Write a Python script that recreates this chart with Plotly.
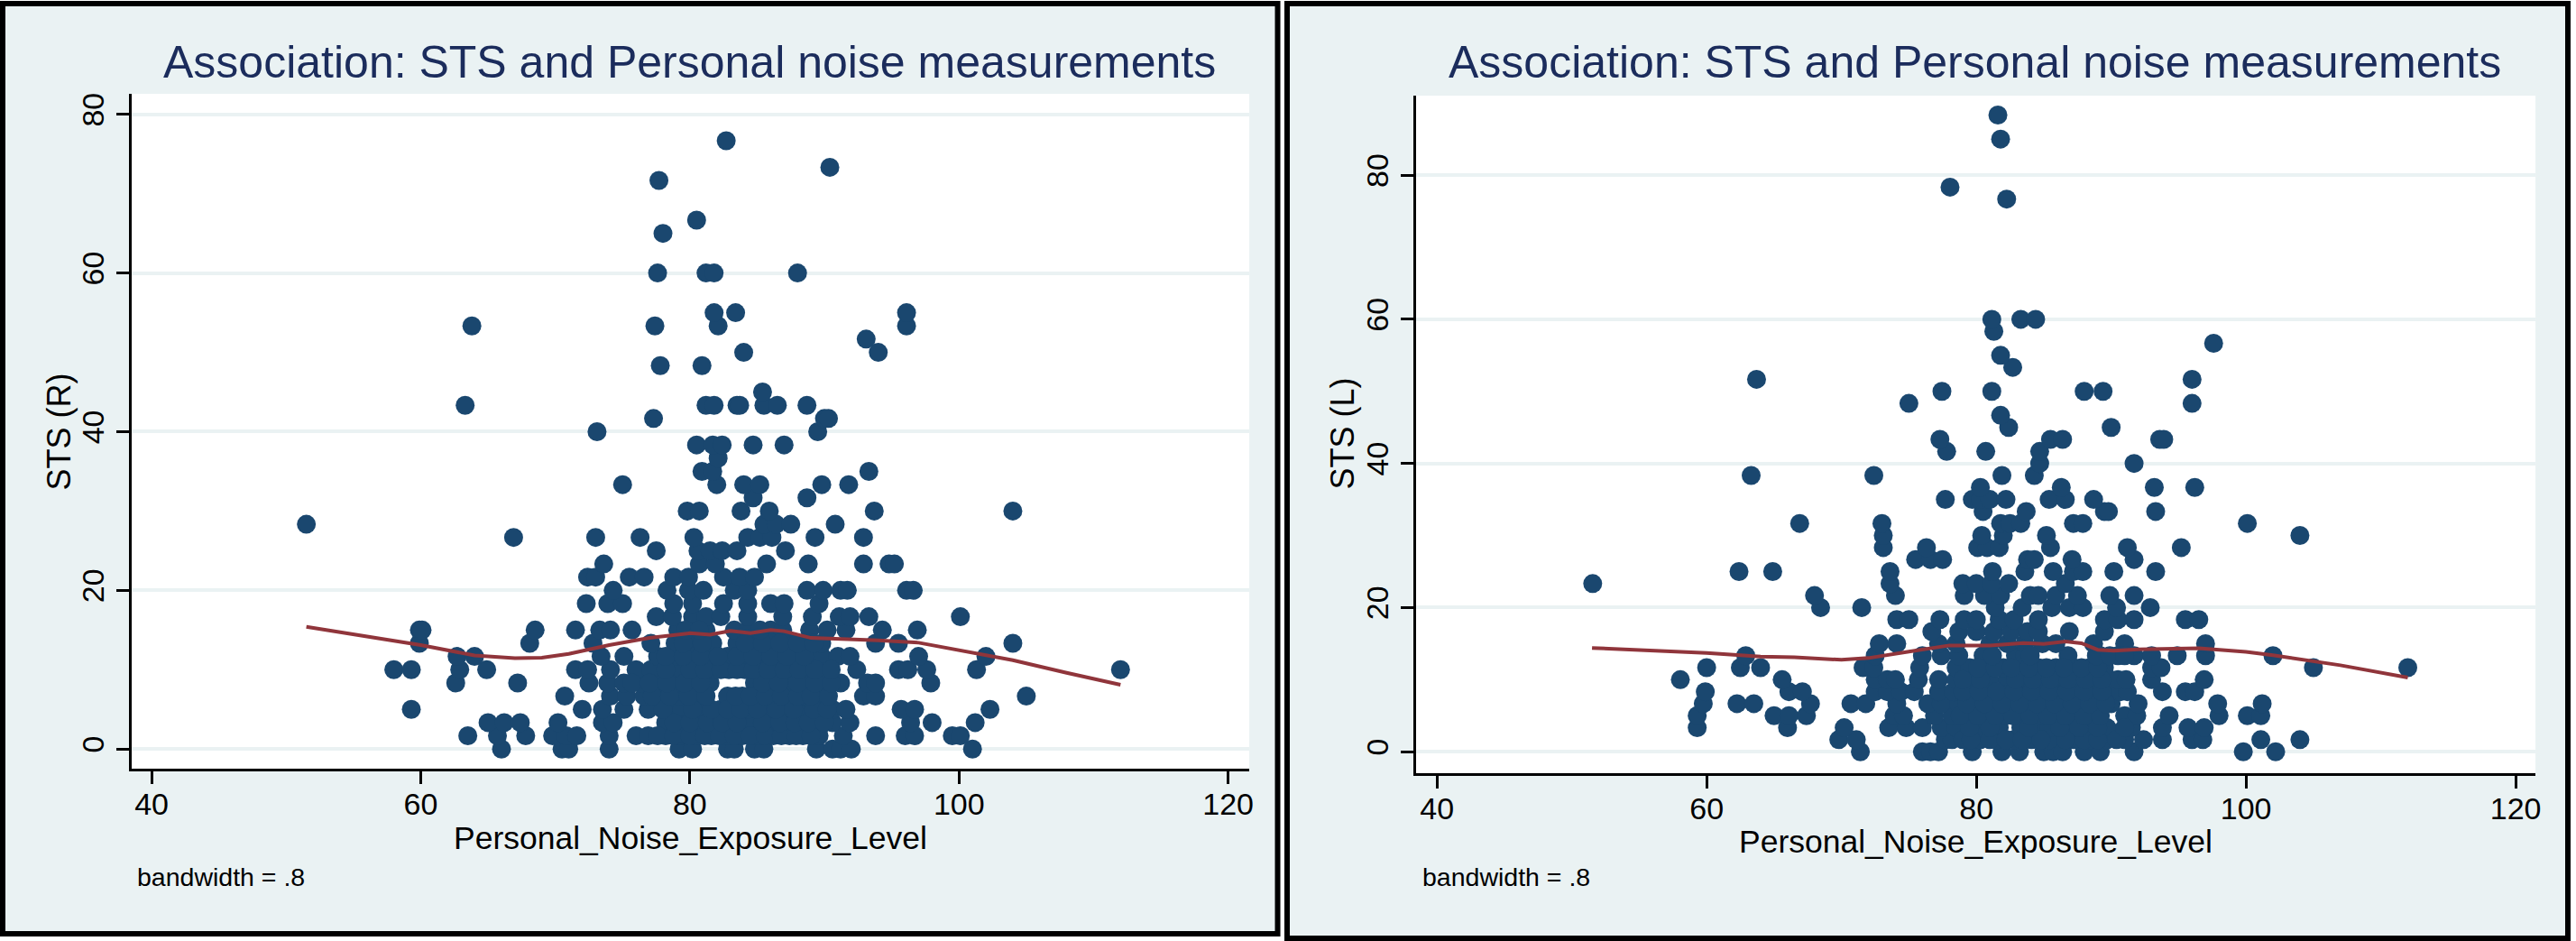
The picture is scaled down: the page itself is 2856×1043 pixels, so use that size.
import plotly.graph_objects as go

W, H = 2856, 1043

r_levels = [0, 1.67, 3.33, 5, 6.67, 8.33, 10, 11.67, 13.33, 15, 16.67, 18.33, 20, 21.67, 23.33, 25, 26.67,
            28.33, 30, 31.67, 33.33, 35, 36.67, 38.33, 40, 41.67, 43.33, 45, 48.33, 50, 51.67, 53.33, 55, 60,
            65, 66.67, 71.67, 73.33, 76.67]
r_noise = [
    [66, 70.5, 71, 74, 79.2, 80.2, 82.8, 83.3, 84.8, 85.5, 89.4, 90.6, 91.2, 92, 101],
    [63.5, 65.7, 67.8, 69.8, 70.8, 71.6, 74, 76, 76.9, 78.2, 79.3, 80.5, 81.6, 82.8, 83.9, 85.1, 86.2, 87.4, 88.4,
     89.6, 91.4, 93.8, 96, 96.7, 99.5, 100.1],
    [65, 66.2, 67.4, 70.2, 73.5, 74.3, 78.2, 79.3, 80.7, 81.9, 83, 84.1, 84.7, 86.1, 87.3, 88.2, 89.4, 90.6, 91.9,
     96.4, 98, 101.2],
    [59.3, 72, 73.5, 75.1, 76.9, 78.7, 79.4, 81, 82.3, 83.3, 84.3, 85.8, 87.1, 88.4, 89.9, 90.6, 91.6, 95.7, 96.7,
     102.3],
    [70.7, 74.1, 75.3, 76.6, 77.9, 79.2, 80.5, 82.8, 83.9, 85.1, 86.2, 87.4, 88.5, 89.4, 92.9, 93.8, 105],
    [62.6, 67.2, 72.5, 73.9, 75.1, 76.4, 77.6, 78.9, 80.2, 81.5, 84.8, 86, 87.1, 88.7, 89.9, 91.2, 93.2, 93.8, 97.9],
    [58, 59.3, 62.9, 64.9, 71.5, 72.4, 74.1, 76, 77.1, 79.4, 80.6, 81.7, 82.9, 84.1, 85.2, 86.4, 87.5, 88.7, 89.8,
     92.4, 95.5, 96.2, 97.6, 101.3, 112],
    [62.7, 64, 73.4, 75.1, 77.6, 78.9, 80.2, 81.5, 82.8, 84.1, 85.3, 86.6, 87.9, 89.1, 89.8, 91, 91.9, 97, 102],
    [59.9, 68.1, 72.8, 77.1, 78.9, 80.2, 81.7, 83.5, 84.8, 86.1, 87.4, 88.7, 89.8, 93.8, 95.5, 104],
    [59.9, 60.1, 68.5, 71.5, 73.3, 74.1, 75.7, 79.1, 80.2, 81.2, 83.3, 84.3, 86, 86.9, 88.9, 90.2, 91.6, 94.3, 96.9],
    [77.5, 78.7, 80.2, 81.2, 82.3, 84.3, 86.9, 89.1, 91.1, 91.9, 93.3, 100.1],
    [72.3, 73.9, 75, 78.8, 80.2, 82.5, 84.3, 86, 87, 89.6],
    [74.3, 78.3, 79.9, 81, 83.3, 84.3, 88.7, 89.9, 91.2, 91.7, 96.1, 96.6],
    [72.4, 73, 75.5, 76.6, 78.8, 79.9, 82.5, 83.7, 84.8],
    [73.6, 80.7, 81.9, 85.7, 88.8, 92.9, 94.8, 95.2],
    [77.5, 80.6, 81.5, 82.4, 83.5, 87.1],
    [66.9, 73, 76.3, 80.3, 84.3, 85.2, 86.1, 89.3, 92.9],
    [51.5, 85.5, 86.4, 87.5, 90.8],
    [79.8, 80.7, 83.8, 85.9, 93.7, 104],
    [84.7, 88.7],
    [75, 82, 84, 85.2, 89.8, 91.8],
    [80.9, 81.7, 93.3],
    [82.1],
    [80.5, 81.7, 82.4, 84.7, 87],
    [73.1, 89.5],
    [77.3, 90, 90.3],
    [63.3, 81.2, 81.8, 83.5, 83.7, 85.5, 86.5, 88.7],
    [85.4],
    [77.8, 80.9],
    [84, 94],
    [93.1],
    [63.8, 77.4, 82.1, 96.1],
    [81.8, 83.4, 96.1],
    [77.6, 81.2, 81.8, 88],
    [78],
    [80.5],
    [77.7],
    [90.4],
    [82.7],
]
r_dense_levels = [1.67, 3.33, 5, 6.67, 8.33, 10, 11.67, 13.33, 15]
r_dense_noise = [
    [77.6, 78.8, 80, 81.1, 82.2, 83.3, 84.5, 85.6, 86.8, 87.9, 89],
    [78.8, 80, 81.3, 82.4, 83.5, 85.4, 86.7, 87.8, 88.8, 90],
    [78, 80.2, 81.6, 82.8, 83.8, 85, 86.4, 87.7, 89.2, 90.2],
    [77.2, 78.5, 79.9, 81.2, 83.4, 84.5, 85.6, 86.8, 88, 89, 90.3],
    [75.7, 77, 78.3, 79.6, 80.8, 85.4, 86.6, 88, 89.3, 90.5],
    [78.2, 80, 81.1, 82.3, 83.5, 84.7, 85.8, 87, 88.1, 89.3, 90.5],
    [78.2, 79.5, 80.8, 82.1, 83.5, 84.7, 86, 87.2, 88.5],
    [79.5, 80.9, 84.1, 85.4, 86.7, 88, 89.2],
    [79.7, 80.7, 85.2],
]

l_levels = [0, 1.67, 3.33, 5, 6.67, 8.33, 10, 11.67, 13.33, 15, 16.67, 18.33, 20, 21.67, 23.33, 25, 26.67, 28.33,
            30, 31.67, 33.33, 35, 36.67, 38.33, 40, 41.67, 43.33, 45, 46.67, 48.33, 50, 51.67, 53.33, 55, 56.67,
            58.33, 60, 76.67, 78.33, 85, 88.33]
l_noise = [
    [71.4, 76, 76.6, 77.2, 79.7, 81.9, 83.2, 85, 85.7, 86.4, 88, 89.2, 91.7, 99.8, 102.2],
    [69.8, 71.1, 77.7, 78.2, 80.3, 81.5, 82.8, 84.1, 85.4, 87.2, 88.4, 89.7, 91, 92.4, 93.8, 96, 96.8, 101.1, 104],
    [59.3, 66, 70.2, 73.5, 74.8, 76, 77.4, 78.5, 80.2, 81.7, 83.3, 84.6, 85.4, 86.9, 88.2, 89.7, 91.5, 93.8, 95.7,
     96.9],
    [59.3, 65, 66.1, 67.4, 73.9, 74.6, 76.9, 78.2, 79.5, 80.8, 82.1, 83.4, 84.7, 86, 87.3, 88.6, 91, 91.9, 94.3, 98,
     100.1, 101.1],
    [59.75, 62.25, 63.5, 67.7, 70.7, 71.8, 74.1, 76.4, 77.4, 78.7, 80, 81.3, 82.6, 83.9, 85.2, 86.5, 87.8, 89.1, 90,
     92, 97.9, 101.2],
    [59.9, 66.1, 67.1, 72.5, 73.4, 74.4, 75.4, 77.2, 78.3, 79.6, 80.9, 82.2, 83.5, 84.8, 86.1, 87.4, 88.7, 89.9, 90.7,
     91.2, 93.8, 95.5, 96.2],
    [58.05, 65.6, 72.5, 73.4, 74, 75.7, 77.2, 78.5, 79.7, 81, 82.3, 83.6, 84.9, 86.2, 87.5, 88.7, 89.9, 90.5, 91.1,
     93, 96.9],
    [60, 62.5, 64, 71.6, 72.4, 75.8, 78.5, 79.5, 80.8, 82, 83.3, 84.6, 85.9, 87.2, 88.4, 89.5, 93, 93.7, 105, 112],
    [62.9, 72.5, 76, 77.4, 78.7, 80.5, 82.9, 83.6, 86.8, 89.2, 90.5, 91.7, 93, 94.9, 97, 102],
    [72.8, 74.1, 77.2, 78.5, 81, 82.3, 83.6, 84.9, 85.9, 88.7, 91, 97],
    [76.7, 78.7, 80, 81.3, 82.6, 83.8, 84.6, 86.9, 89.5],
    [74.1, 75, 77.3, 79.1, 80, 81.7, 82.8, 84.6, 89.5, 90.5, 91.7, 95.5, 96.5],
    [68.45, 71.5, 81.4, 83.4, 85.6, 86.9, 87.9, 90.4, 92.9],
    [68, 74, 79.1, 80.6, 81.8, 84, 84.6, 85.9, 87.5, 89.9, 91.7],
    [51.55, 73.6, 79, 80, 81.1, 82.4, 86.6],
    [62.4, 64.9, 73.6, 81.2, 83.6, 85.7, 87.2, 87.9, 90.2, 93.3],
    [75.5, 76.6, 77.5, 83.8, 84.3, 87.1, 91.7],
    [73.1, 76.3, 80.1, 80.8, 81.7, 85.5, 91.2, 95.2],
    [73.1, 80.4, 82, 85.2, 104],
    [66.9, 73, 81.8, 82.5, 83.3, 87.2, 87.9, 100.1],
    [80.5, 83.7, 89.5, 89.8, 93.3],
    [77.7, 79.7, 80.3, 81, 82.2, 85.4, 86.6, 88.7],
    [80.3, 86.3, 93.2, 96.2],
    [63.3, 72.4, 81.9, 84.3],
    [84.7, 91.7],
    [77.8, 80.7, 84.7],
    [77.3, 85.5, 86.4, 93.6, 93.9],
    [82.4, 90],
    [81.8],
    [75, 96],
    [77.45, 81.15, 88, 89.4],
    [63.7, 96],
    [82.7],
    [81.8],
    [97.6],
    [81.3],
    [81.15, 83.3, 84.4],
    [82.25],
    [78.05],
    [81.8],
    [81.6],
]
l_dense_levels = [1.67, 3.33, 5, 6.67, 8.33, 10, 11.67, 13.33]
l_dense_noise = [
    [79, 79.6, 81, 82.2, 83.4, 84.8, 86.6, 88, 89, 90.4],
    [79.5, 81, 83.9, 86.2, 87.6, 89, 91],
    [78.8, 80.1, 81.4, 82.7, 84, 85.3, 86.6, 88, 89.2],
    [79.3, 80.6, 81.9, 83.2, 84.5, 85.8, 87.1, 88.4, 89.6],
    [79, 80.2, 81.5, 82.8, 84.1, 85.4, 86.7, 88, 89.3],
    [79, 80.3, 82.9, 84.2, 85.5, 86.8, 88.1, 89.3],
    [80.1, 81.4, 82.6, 83.9, 85.2, 86.5, 87.8, 89],
    [81.2, 84, 88.9, 89.9, 91],
]

r_line_x = [51.5, 60, 64, 67, 69, 71, 74, 77, 80, 81.5, 83, 84.5, 86, 87, 89, 91, 94, 97, 100, 104, 108, 112]
r_line_y = [15.4, 13.1, 11.8, 11.45, 11.5, 12, 13.1, 14, 14.6, 14.4, 14.9, 14.6, 15, 14.85, 14, 13.9, 13.7, 13.4,
            12.5, 11.2, 9.6, 8.1]
l_line_x = [51.5, 60, 64, 66.5, 70, 72, 75, 78, 81, 83.5, 85, 86.6, 87.8, 89, 90.2, 92, 96.5, 100, 102, 107, 112]
l_line_y = [14.4, 13.7, 13.2, 13.1, 12.75, 13, 13.9, 14.75, 14.75, 15.07, 14.95, 15.3, 15.05, 14.15, 14, 14.2,
            14.35, 13.85, 13.4, 12, 10.3]

title_text = "Association: STS and Personal noise measurements"
x_title = "Personal_Noise_Exposure_Level"
note_text = "bandwidth = .8"
x_ticks = [40, 60, 80, 100, 120]
y_ticks = [0, 20, 40, 60, 80]

BG = "#eaf2f3"
NAVY = "#1a476f"
RED = "#90353b"
TITLE = "#1b2c5c"
FONT = "Liberation Sans"


def flatten(levels, noise):
    xs, ys = [], []
    for lev, row in zip(levels, noise):
        for v in row:
            xs.append(v)
            ys.append(lev)
    return xs, ys


def text_at(text, px, py, size, color="black", angle=0, xanchor="center"):
    return dict(text=text, xref="paper", yref="paper", x=px / W, y=1 - py / H, showarrow=False, textangle=angle,
                xanchor=xanchor, yanchor="middle", font=dict(family=FONT, size=size, color=color))


fig = go.Figure()

panels = [
    dict(ax="", levels=r_levels, noise=r_noise, dl=r_dense_levels, dn=r_dense_noise, lx=r_line_x, ly=r_line_y,
         ylab="STS (R)", frame=(3, 3, 1419.5, 1035), plot=(146, 103, 1388, 852), xr=(38.5, 121.57), yr=(-2.5, 82.6),
         title_c=766, note_x=150, ylab_x=66, ylab_y=478, xlab_c=767, xlab_y=929),
    dict(ax="2", levels=l_levels, noise=l_noise, dl=l_dense_levels, dn=l_dense_noise, lx=l_line_x, ly=l_line_y,
         ylab="STS (L)", frame=(1430, 3, 2853, 1040), plot=(1573, 105, 2817, 857), xr=(38.43, 121.47), yr=(-3, 91.04),
         title_c=2194, note_x=1578, ylab_x=1492, ylab_y=480, xlab_c=2195, xlab_y=933),
]

shapes, annos = [], []
for p in panels:
    x0, y0, x1, y1 = p["frame"]
    shapes.append(dict(type="rect", xref="paper", yref="paper", x0=x0 / W, x1=x1 / W, y0=1 - y1 / H, y1=1 - y0 / H,
                       fillcolor=BG, line=dict(color="black", width=6), layer="below"))
    a0, b0, a1, b1 = p["plot"]
    shapes.append(dict(type="rect", xref="paper", yref="paper", x0=a0 / W, x1=a1 / W, y0=1 - b1 / H, y1=1 - b0 / H,
                       fillcolor="white", line=dict(width=0), layer="below"))
    xs, ys = flatten(p["levels"] + p["dl"], p["noise"] + p["dn"])
    xa, ya = "x" + p["ax"], "y" + p["ax"]
    fig.add_trace(go.Scatter(x=xs, y=ys, mode="markers", xaxis=xa, yaxis=ya, showlegend=False,
                             marker=dict(color=NAVY, size=21, line=dict(width=0))))
    fig.add_trace(go.Scatter(x=p["lx"], y=p["ly"], mode="lines", xaxis=xa, yaxis=ya, showlegend=False,
                             line=dict(color=RED, width=4)))
    common = dict(showline=True, linecolor="black", linewidth=3, ticks="outside", ticklen=14, tickwidth=3,
                  tickcolor="black", zeroline=False, tickfont=dict(family=FONT, size=34, color="black"))
    fig.update_layout({
        "xaxis" + p["ax"]: dict(domain=[a0 / W, a1 / W], range=list(p["xr"]), tickvals=x_ticks, showgrid=False,
                                anchor=ya, ticklabelstandoff=-7, **common),
        "yaxis" + p["ax"]: dict(domain=[1 - b1 / H, 1 - b0 / H], range=list(p["yr"]), tickvals=y_ticks, showgrid=True,
                                gridcolor=BG, gridwidth=3.5, tickangle=-90, anchor=xa, **common),
    })
    annos.append(text_at(title_text, p["title_c"], 68, 50, color=TITLE))
    annos.append(text_at(x_title, p["xlab_c"], p["xlab_y"], 35.5))
    annos.append(text_at(p["ylab"], p["ylab_x"], p["ylab_y"], 36, angle=-90))
    annos.append(text_at(note_text, p["note_x"], 972, 28.5, xanchor="left"))

fig.update_layout(width=W, height=H, margin=dict(l=0, r=0, t=0, b=0), paper_bgcolor="white", plot_bgcolor="white",
                  shapes=shapes, annotations=annos, showlegend=False)

fig.write_html("out.html", config={"displayModeBar": False},
               post_script="document.body.style.margin='0';document.body.style.overflow='hidden';")
